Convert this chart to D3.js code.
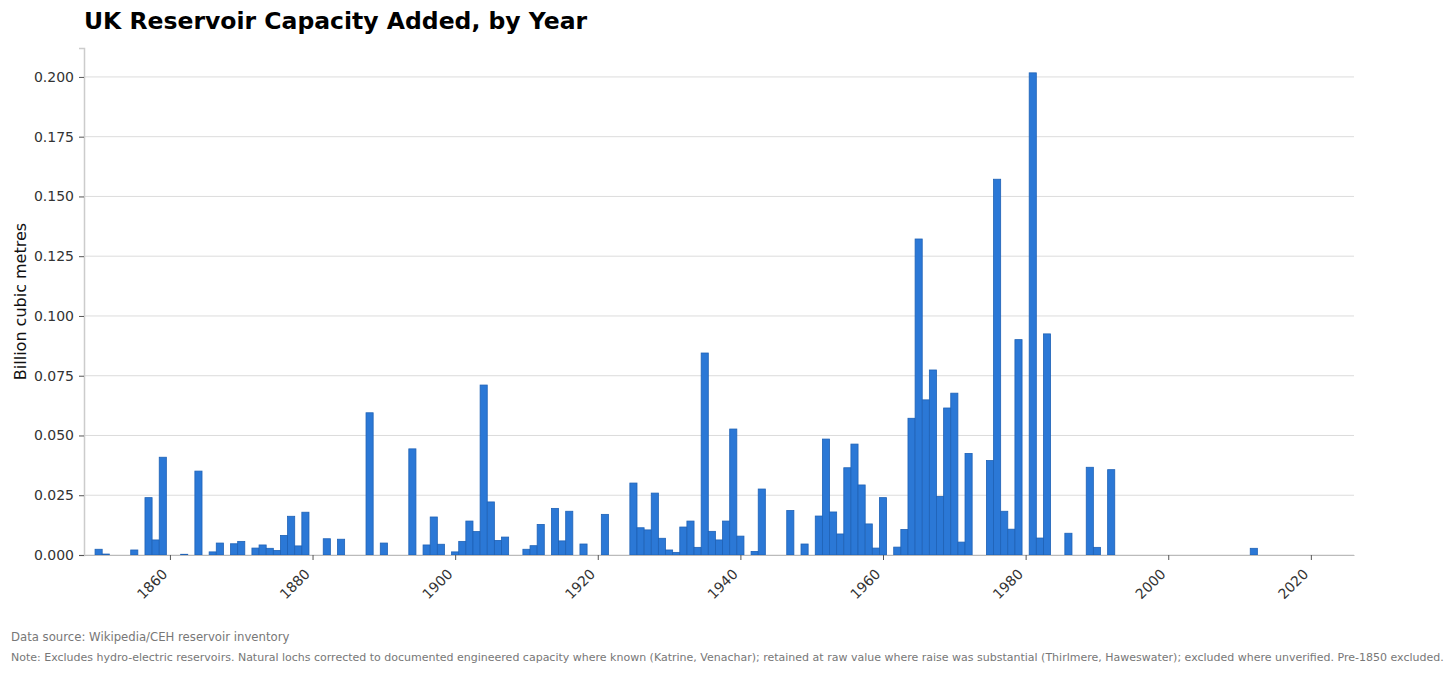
<!DOCTYPE html>
<html>
<head>
<meta charset="utf-8">
<script src="https://cdn.jsdelivr.net/npm/d3@7"></script>
<style>
  body { margin: 0; background: #fff; }
  svg text { font-family: "DejaVu Sans", sans-serif; }
</style>
</head>
<body>
<svg id="chart" width="1456" height="673"></svg>
<script>
// year each reservoir group came online, and capacity added (billion m3)
const years = [
  1850, 1851, 1855, 1857, 1858, 1859, 1862, 1864, 1866, 1867, 1869, 1870,
  1872, 1873, 1874, 1875, 1876, 1877, 1878, 1879, 1882, 1884, 1888, 1890,
  1894, 1896, 1897, 1898, 1900, 1901, 1902, 1903, 1904, 1905, 1906, 1907,
  1910, 1911, 1912, 1914, 1915, 1916, 1918, 1921, 1925, 1926, 1927, 1928,
  1929, 1930, 1931, 1932, 1933, 1934, 1935, 1936, 1937, 1938, 1939, 1940,
  1942, 1943, 1947, 1949, 1951, 1952, 1953, 1954, 1955, 1956, 1957, 1958,
  1959, 1960, 1962, 1963, 1964, 1965, 1966, 1967, 1968, 1969, 1970, 1971,
  1972, 1975, 1976, 1977, 1978, 1979, 1981, 1982, 1983, 1986, 1989, 1990,
  1992, 2012
];
const capacity = [
  0.0024, 0.0004, 0.0021, 0.0240, 0.0063, 0.0409, 0.0003, 0.0351, 0.0013, 0.0050, 0.0047, 0.0057,
  0.0029, 0.0042, 0.0028, 0.0019, 0.0082, 0.0162, 0.0038, 0.0179, 0.0068, 0.0066, 0.0595, 0.0050,
  0.0444, 0.0042, 0.0159, 0.0045, 0.0013, 0.0057, 0.0142, 0.0098, 0.0711, 0.0222, 0.0061, 0.0075,
  0.0024, 0.0039, 0.0128, 0.0195, 0.0059, 0.0183, 0.0046, 0.0170, 0.0301, 0.0114, 0.0105, 0.0259,
  0.0070, 0.0021, 0.0011, 0.0117, 0.0142, 0.0032, 0.0845, 0.0099, 0.0063, 0.0142, 0.0527, 0.0079,
  0.0015, 0.0276, 0.0186, 0.0046, 0.0163, 0.0485, 0.0180, 0.0088, 0.0365, 0.0464, 0.0293, 0.0130,
  0.0029, 0.0240, 0.0033, 0.0107, 0.0572, 0.1322, 0.0649, 0.0774, 0.0245, 0.0615, 0.0677, 0.0054,
  0.0425, 0.0395, 0.1572, 0.0183, 0.0108, 0.0901, 0.2017, 0.0071, 0.0925, 0.0091, 0.0367, 0.0032,
  0.0357, 0.0028
];
const xTicks = [1860, 1880, 1900, 1920, 1940, 1960, 1980, 2000, 2020];
const yTicks = [0, 0.025, 0.05, 0.075, 0.1, 0.125, 0.15, 0.175, 0.2];

const titleText = "UK Reservoir Capacity Added, by Year";
const yLabel = "Billion cubic metres";
const sourceNote = "Data source: Wikipedia/CEH reservoir inventory";
const methodNote = "Note: Excludes hydro-electric reservoirs. Natural lochs corrected to documented engineered capacity where known (Katrine, Venachar); retained at raw value where raise was substantial (Thirlmere, Haweswater); excluded where unverified. Pre-1850 excluded.";

const data = years.map((y, i) => ({ year: y, value: capacity[i] }));

const margin = { top: 48, right: 102, bottom: 118, left: 84 };
const W = 1456, H = 673;
const svg = d3.select('#chart');

const x = d3.scaleLinear()
    .domain([1847.95, 2026.05])
    .range([margin.left, W - margin.right]);
const y = d3.scaleLinear()
    .domain([0, 0.2121])
    .range([H - margin.bottom, margin.top]);

// gridlines
svg.append('g')
    .selectAll('line')
    .data(yTicks)
    .join('line')
    .attr('x1', margin.left)
    .attr('x2', W - margin.right)
    .attr('y1', d => y(d))
    .attr('y2', d => y(d))
    .attr('stroke', '#dcdcdc')
    .attr('stroke-width', 1);

// bars, one year wide, centred on the year
svg.append('g')
    .selectAll('rect')
    .data(data)
    .join('rect')
    .attr('x', d => x(d.year - 0.5))
    .attr('width', d => x(d.year + 0.5) - x(d.year - 0.5))
    .attr('y', d => y(d.value))
    .attr('height', d => y(0) - y(d.value))
    .attr('fill', '#2b78d6')
    .attr('stroke', '#1f62b6')
    .attr('stroke-width', 0.8);

// y axis
const yAxis = svg.append('g')
    .attr('transform', `translate(${margin.left},0)`)
    .call(d3.axisLeft(y).tickValues(yTicks).tickFormat(d3.format('.3f')).tickSize(5).tickPadding(5));
yAxis.select('.domain').attr('stroke', '#cccccc').attr('stroke-width', 1.5);
yAxis.selectAll('.tick line').attr('stroke', '#555');
yAxis.selectAll('.tick text').attr('font-size', 14).attr('fill', '#333')
    .attr('font-family', '"DejaVu Sans", sans-serif');

// x axis
const xAxis = svg.append('g')
    .attr('transform', `translate(0,${y(0)})`)
    .call(d3.axisBottom(x).tickValues(xTicks).tickFormat(d3.format('d')).tickSize(5).tickSizeOuter(0));
xAxis.select('.domain').attr('stroke', '#bbbbbb').attr('stroke-width', 1.2);
xAxis.selectAll('.tick line').attr('stroke', '#555');
xAxis.selectAll('.tick text')
    .attr('font-size', 14).attr('fill', '#333')
    .attr('font-family', '"DejaVu Sans", sans-serif')
    .attr('text-anchor', 'end')
    .attr('dy', null)
    .attr('y', 0)
    .attr('transform', 'translate(-5,17) rotate(-45)')
    .attr('dominant-baseline', 'middle');

// title and labels
svg.append('text')
    .attr('x', margin.left)
    .attr('y', 29)
    .attr('font-size', 23.5)
    .attr('font-weight', 'bold')
    .attr('fill', '#000')
    .text(titleText);

svg.append('text')
    .attr('transform', `translate(25.5,${(y(0) + margin.top) / 2}) rotate(-90)`)
    .attr('text-anchor', 'middle')
    .attr('font-size', 16)
    .attr('fill', '#111')
    .text(yLabel);

svg.append('text')
    .attr('x', 11)
    .attr('y', 640.5)
    .attr('font-size', 11.7)
    .attr('fill', '#777')
    .text(sourceNote);

svg.append('text')
    .attr('x', 11)
    .attr('y', 661)
    .attr('font-size', 11)
    .attr('fill', '#777')
    .text(methodNote);
</script>
</body>
</html>
